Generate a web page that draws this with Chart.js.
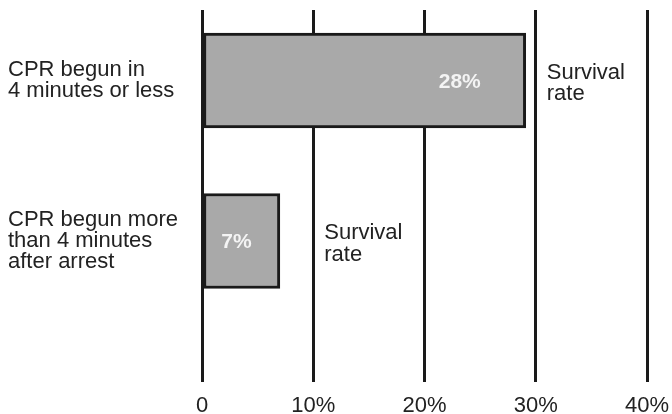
<!DOCTYPE html>
<html>
<head>
<meta charset="utf-8">
<script src="https://cdn.jsdelivr.net/npm/chart.js@4"></script>
<style>
  html, body { margin: 0; padding: 0; background: #ffffff; }
  #wrap { width: 672px; height: 414px; position: relative; }
</style>
</head>
<body>
<div id="wrap"><canvas id="c"></canvas></div>
<script>
// ---- data ----
const categories = [
  ['CPR begun in', '4 minutes or less'],
  ['CPR begun more', 'than 4 minutes', 'after arrest']
];
const survivalRate = [29.1, 7.0];          // bar lengths as drawn (%)
const rateLabels = ['28%', '7%'];          // printed values
const annotationText = ['Survival', 'rate'];
const annotationAt = [30, 10];             // gridline each note sits beside (%)
const xTickLabels = ['0', '10%', '20%', '30%', '40%'];

const FONT = '"Liberation Sans", Arial, Helvetica, sans-serif';
const TEXT = '#222222';

const labelPlugin = {
  id: 'barNotes',
  afterDatasetsDraw(chart) {
    const ctx = chart.ctx;
    const meta = chart.getDatasetMeta(0);
    const xs = chart.scales.x;
    const insets = [66, 43.5];
    ctx.save();
    meta.data.forEach((bar, i) => {
      ctx.font = 'bold 21px ' + FONT;
      ctx.fillStyle = '#f4f4f4';
      ctx.textAlign = 'center';
      ctx.textBaseline = 'middle';
      ctx.fillText(rateLabels[i], bar.x - insets[i], bar.y + 1.5);
      ctx.font = '22px ' + FONT;
      ctx.fillStyle = TEXT;
      ctx.textAlign = 'left';
      ctx.textBaseline = 'alphabetic';
      const ax = xs.getPixelForValue(annotationAt[i]) + 11;
      ctx.fillText(annotationText[0], ax, bar.y - 2);
      ctx.fillText(annotationText[1], ax, bar.y + 19.5);
    });
    ctx.restore();
  }
};

new Chart(document.getElementById('c'), {
  type: 'bar',
  data: {
    datasets: [{
      data: survivalRate.map((v, i) => ({ x: v, y: i + 1 })),
      backgroundColor: '#a9a9a9',
      borderColor: '#1a1a1a',
      borderWidth: 3,
      borderSkipped: false,
      barThickness: 95
    }]
  },
  options: {
    indexAxis: 'y',
    responsive: true,
    maintainAspectRatio: false,
    animation: false,
    layout: { padding: { left: 8, right: 25, top: 10, bottom: 0 } },
    plugins: { legend: { display: false }, tooltip: { enabled: false } },
    scales: {
      x: {
        type: 'linear',
        min: 0,
        max: 40,
        offset: false,
        ticks: {
          stepSize: 10,
          padding: 11,
          color: TEXT,
          font: { family: FONT, size: 22 },
          callback: (v, i) => xTickLabels[i]
        },
        grid: { color: '#1a1a1a', lineWidth: 3, drawTicks: false, offset: false },
        border: { display: false },
        afterFit: (s) => { s.height = 32; s.paddingLeft = 0; s.paddingRight = 0; }
      },
      y: {
        type: 'linear',
        min: 0.5607,
        max: 2.8785,
        reverse: true,
        offset: false,
        afterBuildTicks: (s) => { s.ticks = [{ value: 1 }, { value: 2 }]; },
        ticks: {
          crossAlign: 'far',
          color: TEXT,
          font: { family: FONT, size: 22, lineHeight: 0.95 },
          callback: (v) => categories[Math.round(v) - 1]
        },
        grid: { display: false, offset: false },
        border: { display: false },
        afterFit: (s) => { s.width = 194; s.paddingTop = 0; s.paddingBottom = 0; }
      }
    }
  },
  plugins: [labelPlugin]
});
</script>
</body>
</html>
